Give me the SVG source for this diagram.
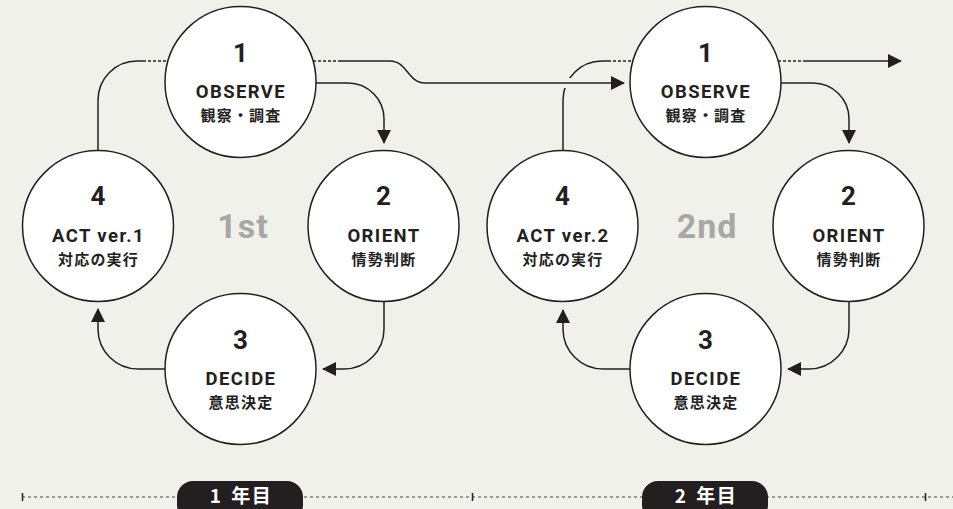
<svg xmlns="http://www.w3.org/2000/svg" width="953" height="509" viewBox="0 0 953 509">
<defs>
<style>
.bg{fill:#f1f1ec}
.node circle{fill:#fff;stroke:#231f20;stroke-width:1.5}
.num{font-family:Roboto,"Liberation Sans",sans-serif;font-weight:700;font-size:26px;fill:#231f20;text-anchor:middle}
.en{font-family:Roboto,"Liberation Sans",sans-serif;font-weight:700;font-size:18.5px;fill:#231f20;text-anchor:middle;letter-spacing:1.4px}
.jp{font-family:"Noto Sans CJK JP","Noto Sans",sans-serif;font-weight:700;font-size:15px;fill:#231f20;text-anchor:middle;letter-spacing:1.2px}
.round{font-family:Roboto,"Liberation Sans",sans-serif;font-weight:700;font-size:34px;fill:#a7a7a5;text-anchor:middle;letter-spacing:1px}
.ln{fill:none;stroke:#231f20;stroke-width:1.5}
.arr{marker-end:url(#ah)}
.dot{fill:none;stroke:#231f20;stroke-width:1.5;stroke-dasharray:3 2}
.tl{fill:none;stroke:#444;stroke-width:1;stroke-dasharray:3 3}
.tick{stroke:#231f20;stroke-width:1.5}
.pill{fill:#231f20}
.year{font-family:"Noto Sans CJK JP","Noto Sans",sans-serif;font-weight:700;font-size:19px;fill:#fff;text-anchor:middle;letter-spacing:1.5px}
</style>
<marker id="ah" viewBox="0 0 14 14" refX="13" refY="7" markerWidth="14" markerHeight="14" markerUnits="userSpaceOnUse" orient="auto">
<path d="M0,0 L14,7 L0,14 Z" fill="#231f20"/>
</marker>
</defs>
<rect class="bg" x="0" y="0" width="953" height="509"/>

<g id="connectors">
<!-- cycle 1 -->
<path class="ln arr" d="M316,83 H348 A36,36 0 0 1 384,119 V143"/>
<path class="ln arr" d="M384,302 V329 A40,40 0 0 1 344,369 H323"/>
<path class="ln arr" d="M165,369 H138 A40,40 0 0 1 98,329 V309"/>
<path class="ln" d="M98,150 V100 A39,39 0 0 1 137,61 H143"/>
<path class="dot" d="M143,61 H168"/>
<path class="dot" d="M313,61 H338"/>
<!-- cycle 2 -->
<path class="ln arr" d="M781,83 H813 A36,36 0 0 1 849,119 V143"/>
<path class="ln arr" d="M849,302 V329 A40,40 0 0 1 809,369 H788"/>
<path class="ln arr" d="M630,369 H603 A40,40 0 0 1 563,329 V310"/>
<path class="ln" d="M563,150 V100 A39,39 0 0 1 602,61 H608"/>
<path class="dot" d="M608,61 H633"/>
<path class="dot" d="M778,61 H803"/>
<path class="ln arr" d="M803,61 H901"/>
<!-- link between cycles -->
<line x1="554" y1="83" x2="574" y2="83" stroke="#f1f1ec" stroke-width="10"/>
<path class="ln arr" d="M338,61 H390 C407,61 408,83 425,83 H624"/>
</g>

<g id="n1-observe" class="node">
<circle cx="240.5" cy="82" r="75.5"/>
<text class="num" x="240.5" y="62">1</text>
<text class="en" x="241" y="98">OBSERVE</text>
<text class="jp" x="241" y="121">観察・調査</text>
</g>
<g id="n1-orient" class="node">
<circle cx="383.5" cy="226" r="75.5"/>
<text class="num" x="383.5" y="205">2</text>
<text class="en" x="384" y="242">ORIENT</text>
<text class="jp" x="384" y="265">情勢判断</text>
</g>
<g id="n1-decide" class="node">
<circle cx="240.5" cy="369" r="75.5"/>
<text class="num" x="240.5" y="349">3</text>
<text class="en" x="241" y="385">DECIDE</text>
<text class="jp" x="241" y="408">意思決定</text>
</g>
<g id="n1-act" class="node">
<circle cx="98" cy="226" r="75.5"/>
<text class="num" x="98" y="205">4</text>
<text class="en" x="98.5" y="242">ACT ver.1</text>
<text class="jp" x="98.5" y="265">対応の実行</text>
</g>
<text class="round" x="243" y="238">1st</text>

<g id="n2-observe" class="node">
<circle cx="705.5" cy="82" r="75.5"/>
<text class="num" x="705.5" y="62">1</text>
<text class="en" x="706" y="98">OBSERVE</text>
<text class="jp" x="706" y="121">観察・調査</text>
</g>
<g id="n2-orient" class="node">
<circle cx="848.5" cy="226" r="75.5"/>
<text class="num" x="848.5" y="205">2</text>
<text class="en" x="849" y="242">ORIENT</text>
<text class="jp" x="849" y="265">情勢判断</text>
</g>
<g id="n2-decide" class="node">
<circle cx="705.5" cy="369" r="75.5"/>
<text class="num" x="705.5" y="349">3</text>
<text class="en" x="706" y="385">DECIDE</text>
<text class="jp" x="706" y="408">意思決定</text>
</g>
<g id="n2-act" class="node">
<circle cx="562.5" cy="226" r="75.5"/>
<text class="num" x="562.5" y="205">4</text>
<text class="en" x="563" y="242">ACT ver.2</text>
<text class="jp" x="563" y="265">対応の実行</text>
</g>
<text class="round" x="707" y="238">2nd</text>

<g id="timeline">
<path class="tl" d="M22,497 H953"/>
<line class="tick" x1="22.5" y1="493" x2="22.5" y2="501"/>
<line class="tick" x1="472.5" y1="493" x2="472.5" y2="501"/>
<line class="tick" x1="925.5" y1="493" x2="925.5" y2="501"/>
<rect class="pill" x="177" y="481" width="126" height="40" rx="16"/>
<text class="year" x="241" y="503">1<tspan dx="9">年目</tspan></text>
<rect class="pill" x="642" y="481" width="126" height="40" rx="16"/>
<text class="year" x="706" y="503">2<tspan dx="9">年目</tspan></text>
</g>
</svg>
